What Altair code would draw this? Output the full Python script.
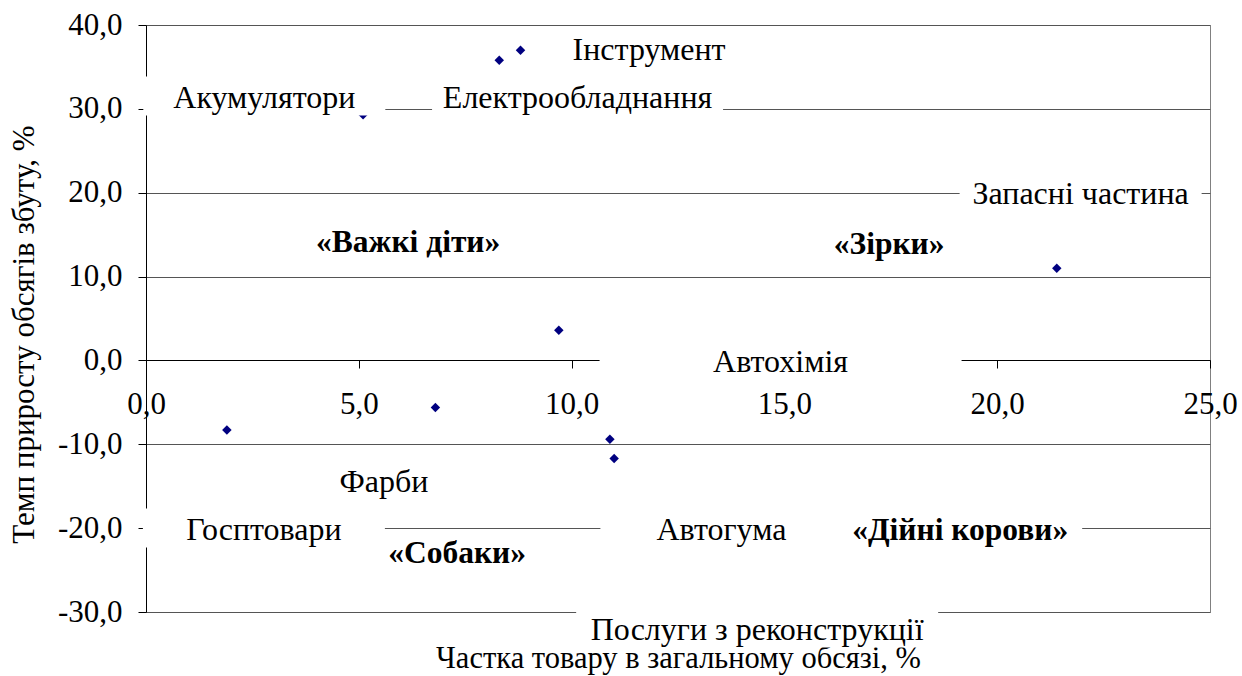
import altair as alt
import pandas as pd

# ---- data ----
products = ["Акумулятори", "Електрообладнання", "Інструмент", "Запасні частина",
            "Автохімія", "Фарби", "Госптовари", "Автогума", "Послуги з реконструкції"]
share = [5.1, 8.3, 8.8, 21.4, 9.7, 6.8, 1.9, 10.9, 11.0]          # x, %
growth = [29.3, 35.8, 37.0, 11.0, 3.6, -5.6, -8.3, -9.4, -11.7]    # y, %

quadrants = ["«Важкі діти»", "«Зірки»", "«Собаки»", "«Дійні корови»"]

x_ticks = [0, 5, 10, 15, 20, 25]
y_ticks = [-30, -20, -10, 0, 10, 20, 30, 40]

x_title = "Частка товару в загальному обсязі, %"
y_title = "Темп приросту обсягів збуту, %"

# ---- annotation placement (data units, text baseline) ----
label_x = [2.78, 10.14, 11.82, 21.96, 14.91, 5.59, 2.77, 13.52, 14.36]
label_y = [30.05, 30.05, 35.78, 18.60, -1.43, -15.74, -21.47, -21.47, -33.39]
label_half_w = [121, 145.5, 90, 121, 181, 121, 121, 121, 181]   # px, white label boxes

quad_x = [6.16, 17.46, 7.31, 19.13]
quad_y = [12.88, 12.64, -24.21, -21.47]
quad_half_w = [121, 121, 121, 122]

# ---- layout ----
W, H = 1064, 587
XD, YD = [0, 25], [-30, 40]
KX = W / (XD[1] - XD[0])
KY = H / (YD[1] - YD[0])
FONT = "Liberation Serif"
FS = 32

pts = pd.DataFrame({"product": products, "share": share, "growth": growth})

lab = pd.DataFrame({
    "text": products + quadrants,
    "lx": label_x + quad_x,
    "ly": label_y + quad_y,
    "hw": label_half_w + quad_half_w,
    "bold": [0] * len(products) + [1] * len(quadrants),
})
lab["bx"] = lab["lx"] - lab["hw"] / KX
lab["bx2"] = lab["lx"] + lab["hw"] / KX
lab["by"] = lab["ly"] + 32 / KY
lab["by2"] = lab["ly"] - 7 / KY

fmt = "replace((datum.value < 0 ? '-' : '') + format(abs(datum.value), '.1f'), '.', ',')"

xscale = alt.Scale(domain=XD, nice=False, zero=False)
yscale = alt.Scale(domain=YD, nice=False, zero=False)

x_axis = alt.Axis(
    values=x_ticks, labelExpr=fmt, grid=False, orient="bottom", offset=-252,
    domainColor="black", tickColor="black", tickSize=8, labelFont=FONT,
    labelFontSize=31, labelColor="black", labelPadding=45, labelBaseline="alphabetic",
    labelOverlap=False, labelFlush=False,
    title=x_title, titleFont=FONT, titleFontSize=30.5, titleFontWeight="normal",
    titleColor="black", titleX=532, titleY=307, titleBaseline="alphabetic",
    titleAlign="center",
)
y_axis = alt.Axis(
    values=y_ticks, labelExpr=fmt, grid=True, gridColor="#555555", gridWidth=1,
    domainColor="black", tickColor="black", tickSize=8, labelFont=FONT,
    labelFontSize=31, labelColor="black", labelPadding=16, labelOverlap=False,
    labelFlush=False,
    title=y_title, titleFont=FONT, titleFontSize=31, titleFontWeight="normal",
    titleColor="black", titleAngle=270, titleX=-113, titleY=309,
    titleBaseline="alphabetic", titleAlign="center",
)

points = alt.Chart(pts).mark_point(
    shape="diamond", filled=True, color="#000080", size=90, opacity=1
).encode(
    x=alt.X("share:Q", scale=xscale, axis=x_axis),
    y=alt.Y("growth:Q", scale=yscale, axis=y_axis),
)

boxes = alt.Chart(lab).mark_rect(color="white", clip=False).encode(
    x="bx:Q", x2="bx2", y="by:Q", y2="by2",
)

texts_normal = alt.Chart(lab).transform_filter("datum.bold == 0").mark_text(
    font=FONT, fontSize=FS, color="black", baseline="alphabetic", align="center"
).encode(x="lx:Q", y="ly:Q", text="text:N")

texts_bold = alt.Chart(lab).transform_filter("datum.bold == 1").mark_text(
    font=FONT, fontSize=31.5, fontWeight="bold", color="black",
    baseline="alphabetic", align="center"
).encode(x="lx:Q", y="ly:Q", text="text:N")

chart = alt.layer(points, boxes, texts_normal, texts_bold).properties(
    width=W, height=H,
    padding={"left": 146, "top": 25, "right": 32, "bottom": 64},
    autosize=alt.AutoSizeParams(type="none"),
    background="white",
).configure_view(stroke="#808080", strokeWidth=1)

chart.save("out.html", embed_options={"renderer": "svg", "actions": False})
